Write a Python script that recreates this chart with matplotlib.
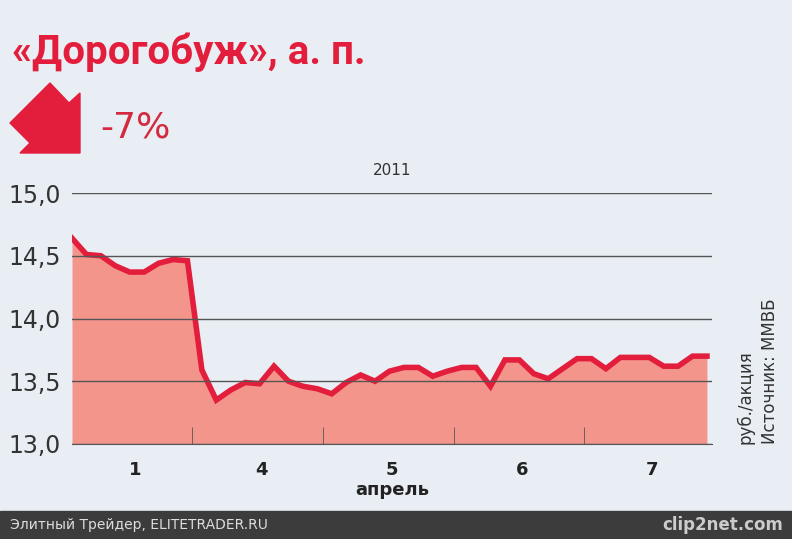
import numpy as np
import matplotlib.pyplot as plt
from matplotlib.patches import Polygon, Rectangle

prices = [14.64, 14.51, 14.50, 14.42, 14.37, 14.37, 14.44, 14.47, 14.46, 13.59,
          13.35, 13.43, 13.49, 13.48, 13.62, 13.50, 13.46, 13.44, 13.40, 13.49,
          13.55, 13.50, 13.58, 13.61, 13.61, 13.54, 13.58, 13.61, 13.61, 13.46,
          13.67, 13.67, 13.56, 13.52, 13.60, 13.68, 13.68, 13.60, 13.69, 13.69,
          13.69, 13.62, 13.62, 13.70, 13.70]
day_labels = ['1', '4', '5', '6', '7']
day_pos = [4.4, 13.1, 22.2, 31.2, 40.2]
day_bounds = [8.3, 17.4, 26.5, 35.5]
y_ticks = [13.0, 13.5, 14.0, 14.5, 15.0]

bg = '#e8eef3'
red = '#e31e3c'
fill = '#f4958c'

fig = plt.figure(figsize=(7.92, 5.39), dpi=100, facecolor=bg)
W, H = 792, 539
ax = fig.add_axes([72 / W, 1 - 444 / H, 640 / W, 251 / H])
ax.set_facecolor(bg)

x = np.arange(len(prices))
ax.fill_between(x, prices, 13.0, color=fill, lw=0)
ax.plot(x, prices, color=red, lw=4, solid_joinstyle='miter')

ax.set_xlim(0, 44.35)
ax.set_ylim(13.0, 15.0)
ax.set_yticks(y_ticks)
ax.set_yticklabels([f'{v:.1f}'.replace('.', ',') for v in y_ticks])
ax.yaxis.grid(True, color='#555555', lw=1)
ax.set_axisbelow(False)
for s in ['top', 'right', 'left']:
    ax.spines[s].set_visible(False)
ax.spines['bottom'].set_color('#555555')
ax.tick_params(axis='y', length=0, labelsize=17, colors='#333333', pad=8)
ax.set_xticks(day_pos)
ax.set_xticklabels(day_labels, fontsize=13, fontweight='bold', color='#222222')
ax.tick_params(axis='x', length=0, pad=12)
ax.set_xticks(day_bounds, minor=True)
ax.tick_params(axis='x', which='minor', length=12, direction='in', color='#555555')
ax.set_xlabel('апрель', fontsize=13, fontweight='bold', color='#222222', labelpad=2)
ax.text(0.5, 1.07, '2011', transform=ax.transAxes, ha='center', fontsize=11, color='#333333')

fig.text(12 / W, 1 - 52 / H, '«Дорогобуж», а. п.', fontsize=29, fontweight='bold',
         color=red, va='center', family='Roboto')
arrow_px = [(50, 83), (69, 103), (80, 93), (80, 153), (20, 153), (30, 143), (10, 123)]
arrow = Polygon([(px / W, 1 - py / H) for px, py in arrow_px],
                closed=True, transform=fig.transFigure, color=red)
fig.patches.append(arrow)
fig.text(100 / W, 1 - 128 / H, '-7%', fontsize=26, color='#d42a3f', va='center',
         family='Liberation Sans Narrow')

fig.text(745 / W, 1 - 444 / H, 'руб./акция', rotation=90, fontsize=12, color='#333333',
         ha='center', va='bottom')
fig.text(770 / W, 1 - 444 / H, 'Источник: ММВБ', rotation=90, fontsize=12, color='#333333',
         ha='center', va='bottom')

fig.patches.append(Rectangle((0, 0), 1, 28 / H, transform=fig.transFigure, color='#3c3c3c'))
fig.text(10 / W, 14 / H, 'Элитный Трейдер, ELITETRADER.RU', fontsize=10, color='#dddddd', va='center')
fig.text(783 / W, 14 / H, 'clip2net.com', fontsize=12, color='#cccccc', va='center', ha='right',
         fontweight='bold')

fig.savefig('out.png', dpi=100, facecolor=bg)
